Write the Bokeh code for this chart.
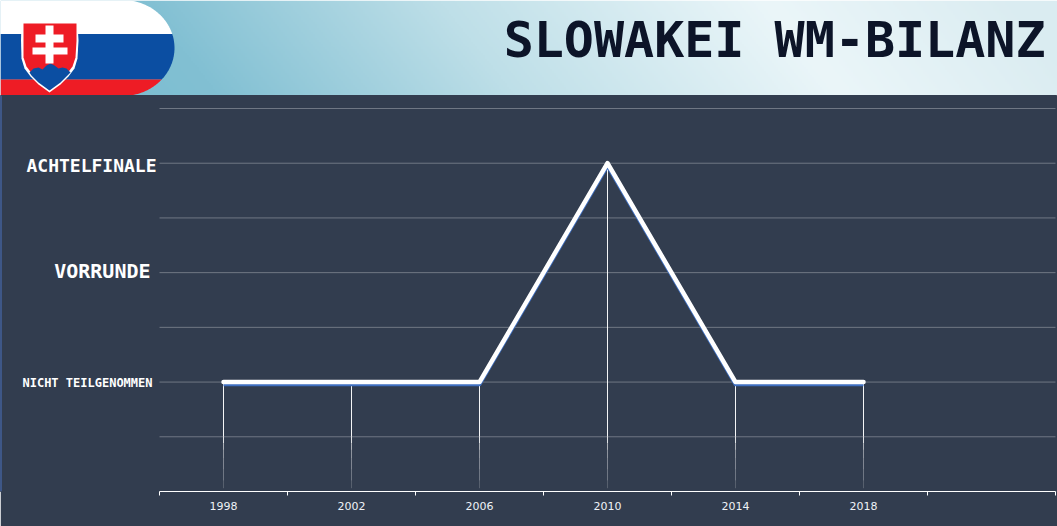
import numpy as np
from bokeh.plotting import figure
from bokeh.layouts import column
from bokeh.models import Range1d, FixedTicker
from bokeh.core.properties import value
from bokeh.embed import file_html
from bokeh.resources import INLINE

# data
years = [1998, 2002, 2006, 2010, 2014, 2018]
rounds = [1, 1, 1, 3, 1, 1]
round_labels = ["NICHT TEILGENOMMEN", "VORRUNDE", "ACHTELFINALE"]
round_levels = [1, 2, 3]
title = "SLOWAKEI WM-BILANZ"

BG = "#323d4f"
W, HH, H = 1057, 95, 431

# ---------- header ----------
hdr = figure(width=W, height=HH, x_range=Range1d(0, W), y_range=Range1d(0, HH),
             x_axis_location=None, y_axis_location=None, toolbar_location=None,
             output_backend="svg", min_border=0,
             background_fill_color="#ffffff", border_fill_color="#ffffff", frame_align=False)
hdr.grid.visible = False
hdr.outline_line_color = "#ffffff"

# diagonal gradient
gw, gh = 529, 48
xx, yy = np.meshgrid(np.linspace(0, 1, gw), np.linspace(0, 1, gh))
t = xx + 0.07 * (yy - 0.5)          # along-gradient coordinate (row 0 = bottom)
stops_t = [0.0, 0.17, 0.45, 0.76, 1.0]
stops_c = [(120, 188, 208), (130, 192, 211), (190, 223, 232), (235, 246, 249), (218, 236, 241)]
img = np.zeros((gh, gw), dtype=np.uint32)
view = img.view(np.uint8).reshape((gh, gw, 4))
for i in range(3):
    view[:, :, i] = np.interp(t, stops_t, [c[i] for c in stops_c])
view[:, :, 3] = 255
hdr.image_rgba(image=[img], x=0, y=0, dw=W, dh=HH)


def fy(v):
    return [HH - a for a in v]


def band(y0, y1):
    ys = np.linspace(y0, y1, 40)
    xs = 122 + 52 * np.sqrt(np.clip(1 - ((ys - 47.5) / 48.0) ** 2, 0, 1))
    return [0] + list(xs) + [0], fy([y0] + list(ys) + [y1])


for (a, b, c) in [(0, 33.5, "#ffffff"), (33.5, 79, "#0b4ea2"), (79, 96, "#ee1c25")]:
    px, py = band(a, b)
    hdr.patch(px, py, color=c, line_color=None)

# shield
sx = [22, 77, 78, 77, 74, 68, 60, 49, 38, 30, 24, 21, 20.5, 21]
sy = [22, 22, 40, 58, 68, 76, 84, 92, 84, 76, 68, 58, 40, 22]
hdr.patch(sx, fy(sy), color="#ffffff", line_color=None)
rx = [23, 76, 76, 75, 72, 66, 58, 49, 40, 32, 26, 23, 23]
ry = [23, 23, 40, 57, 66, 74, 82, 89.5, 82, 74, 66, 57, 23]
hdr.patch(rx, fy(ry), color="#ee1c25", line_color=None)
# hills
bx = [29, 33, 38, 42, 46, 50, 54, 58, 62, 66, 70, 68, 60, 49, 38, 31, 29]
by = [72, 68, 67, 69, 65, 63, 65, 68, 67, 68, 72, 74, 82, 90, 82, 75, 72]
hdr.patch(bx, fy(by), color="#0b4ea2", line_color=None)
# double cross
for (x0, x1, y0, y1) in [(45, 53, 25, 63), (35, 63, 34, 42), (32, 67, 47, 54)]:
    hdr.quad(left=x0, right=x1, bottom=HH - y1, top=HH - y0, color="#ffffff", line_color=None)

hdr.text(x=[1045], y=[HH - 39], text=[title], text_align="right", text_baseline="middle",
         text_color="#0c1428", text_font=value("DejaVu Sans Mono"), text_font_style="bold",
         text_font_size="50px")

# ---------- chart ----------
# the frame spans the whole width so that category labels can sit left of the plotted area
X0, X1 = 1996, 2024
PX_PER_YEAR = 896 / (X1 - X0)
PX_PER_UNIT = 383 / 3.5
p = figure(width=W, height=H,
           x_range=Range1d(X0 - 159 / PX_PER_YEAR, X1 + 2 / PX_PER_YEAR),
           y_range=Range1d(0, 3.5 + 13 / PX_PER_UNIT),
           y_axis_location=None, toolbar_location=None, output_backend="svg",
           min_border_left=0, min_border_right=0, min_border_top=0, min_border_bottom=35,
           background_fill_color=BG, border_fill_color=BG,
           frame_align=False)
p.outline_line_color = BG
p.grid.visible = False

grid_levels = [0.5 * k for k in range(1, 8)]
p.segment(x0=[X0] * len(grid_levels), x1=[X1] * len(grid_levels), y0=grid_levels, y1=grid_levels,
          line_color="#ffffff", line_alpha=0.3, line_width=1)

ax = p.xaxis[0]
ax.ticker = FixedTicker(ticks=years, minor_ticks=list(range(X0, X1 + 1, 4)))
ax.bounds = (X0, X1)
ax.axis_line_color = "#ffffff"
ax.axis_line_width = 1
ax.major_tick_line_color = None
ax.minor_tick_line_color = "#ffffff"
ax.minor_tick_out = 4
ax.minor_tick_in = 0
ax.major_label_text_color = "#eef2f6"
ax.major_label_text_font = "DejaVu Sans"
ax.major_label_text_font_size = "11px"
ax.major_label_standoff = 4

# fading drop lines
fade_y = [1.0, 0.5, 0.44, 0.38, 0.3, 0.2, 0.1, 0.03]
fade_a = [0.95, 0.85, 0.6, 0.45, 0.38, 0.3, 0.18, 0.08]
for yr, v in zip(years, rounds):
    tops = [v] + fade_y[1:-1]
    bots = fade_y[1:]
    p.segment(x0=[yr] * len(bots), x1=[yr] * len(bots), y0=tops, y1=bots,
              line_color="#ffffff", line_width=1, line_alpha=fade_a[:len(bots)])

# series: blue shadow, then white line
p.line(years, [r - 0.02 for r in rounds], line_color="#3f6fc0", line_width=4, line_join="round")
p.line(years, rounds, line_color="#ffffff", line_width=4.5, line_join="round", line_cap="round")

# category labels
label_right_px = [152, 150, 156]
label_size = ["12px", "20px", "18px"]
label_nudge = [1, -2, 2]
label_x = [X0 + (r - 159) / PX_PER_YEAR for r in label_right_px]
for t_, lv, lx, sz, dy in zip(round_labels, round_levels, label_x, label_size, label_nudge):
    p.text(x=[lx], y=[lv], y_offset=dy, text=[t_], text_align="right", text_baseline="middle",
           text_color="#ffffff", text_font=value("DejaVu Sans Mono"), text_font_size=sz,
           text_font_style="bold")

# thin blue page edge
p.segment(x0=[p.x_range.start], x1=[p.x_range.start], y0=[0], y1=[p.y_range.end],
          line_color="#4a73c0", line_width=2)

layout = column(hdr, p, spacing=0)
open("out.html", "w").write(file_html(layout, INLINE))
